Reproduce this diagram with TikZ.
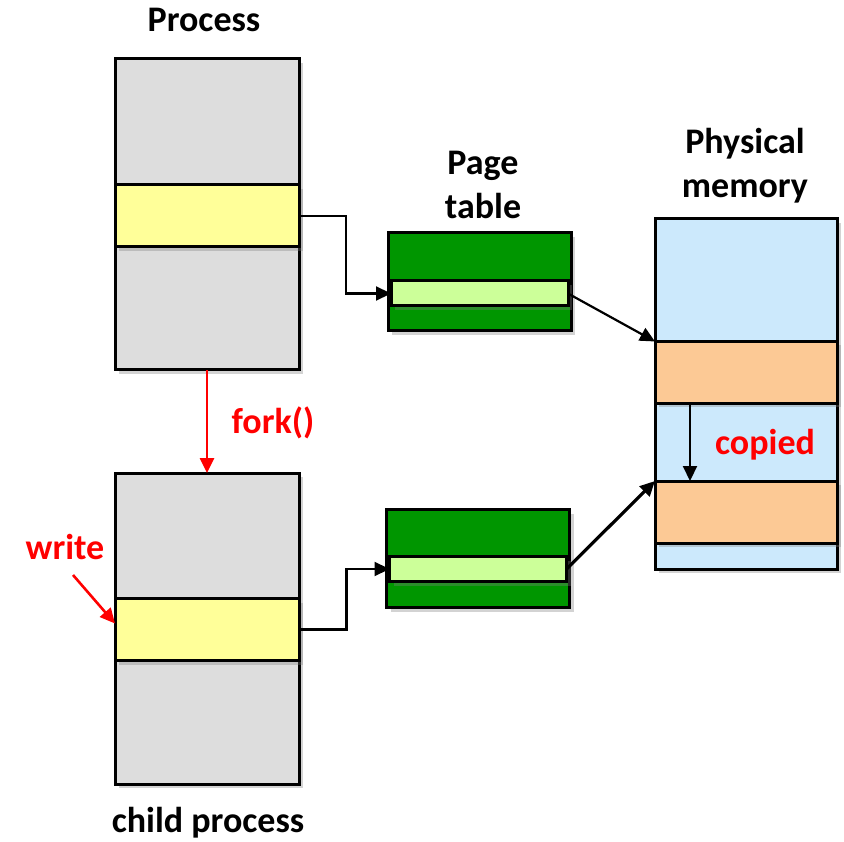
\documentclass[tikz,border=0pt]{standalone}
\usepackage{fontspec}
\setmainfont{Carlito}
\usetikzlibrary{arrows.meta,shadows}
\definecolor{boxgray}{RGB}{221,221,221}
\definecolor{rowyellow}{RGB}{255,255,153}
\definecolor{ptgreen}{RGB}{0,150,0}
\definecolor{ptlight}{RGB}{204,255,153}
\definecolor{pmblue}{RGB}{204,233,252}
\definecolor{pmorange}{RGB}{252,201,149}
\definecolor{txtred}{RGB}{255,0,0}
\tikzset{
  blk/.style={draw=black, line width=3pt, inner sep=0pt, outer sep=0pt, rectangle,
    drop shadow={shadow xshift=4pt, shadow yshift=-4pt, opacity=0.35}},
  procbox/.style={blk, fill=boxgray, minimum width=184pt, minimum height=311pt},
  prow/.style={blk, fill=rowyellow, minimum width=184pt, minimum height=62pt},
  ptbox/.style={blk, fill=ptgreen, minimum width=183pt, minimum height=98pt},
  ptrow/.style={blk, fill=ptlight, minimum width=177pt, minimum height=25pt},
  pmbox/.style={blk, fill=pmblue, minimum width=182pt, minimum height=350pt},
  pmrow/.style={blk, fill=pmorange, minimum width=182pt, minimum height=62pt},
  lbl/.style={font=\fontsize{36}{44}\selectfont\bfseries, align=center, inner sep=0pt},
  rlbl/.style={lbl, text=txtred},
  conn/.style={draw=black, line width=2.2pt, -{Triangle[length=15pt,width=14pt]}},
  connb/.style={draw=black, line width=3.2pt, -{Triangle[length=15pt,width=14pt]}},
  rconn/.style={draw=txtred, line width=2.6pt, -{Triangle[length=15pt,width=14pt]}},
}
\begin{document}
\begin{tikzpicture}[x=1pt,y=-1pt]
\useasboundingbox (0,0) rectangle (844,842);
% labels
\node[lbl] (tproc) at (204,20) {Process};
\node[lbl] (tchild) at (208,823) {child process};
\node[lbl] (tpt) at (483,185) {Page\\table};
\node[lbl] (tpm) at (745,166) {Physical\\memory};
% parent process
\node[procbox] (p) at (207,214.5) {};
\node[prow] (py) at (207,216) {};
% child process
\node[procbox] (c) at (207,628.5) {};
\node[prow] (cy) at (207,629.5) {};
% page tables
\node[ptbox] (pt1) at (479.5,282) {};
\node[ptrow] (pt1r) at (479.5,293.5) {};
\node[ptbox] (pt2) at (478,558.5) {};
\node[ptrow] (pt2r) at (478,569) {};
% physical memory
\node[pmbox] (pm) at (746,394) {};
\node[pmrow] (o1) at (746,372.5) {};
\node[pmrow] (o2) at (746,512) {};
% connectors
\draw[conn] (py.east) -| ([xshift=-45pt]pt1r.west) -- (pt1r.west);
\draw[conn] (cy.east) -| ([xshift=-43pt]pt2r.west) -- (pt2r.west);
\draw[conn] (pt1r.east) -- (o1.north west);
\draw[connb] (pt2r.east) -- (o2.north west);
\draw[conn] ([xshift=-56pt]o1.south) -- ([xshift=-56pt]o2.north);
\node[rlbl] (copied) at (765,445) {copied};
% fork
\draw[rconn] (p.south) -- (c.north);
\node[rlbl] (fork) at (273,423) {fork()};
% write
\node[rlbl] (write) at (65,547) {write};
\coordinate (wstart) at (73,575);
\draw[rconn] (wstart) -- ([yshift=6pt]cy.west);
\end{tikzpicture}
\end{document}
